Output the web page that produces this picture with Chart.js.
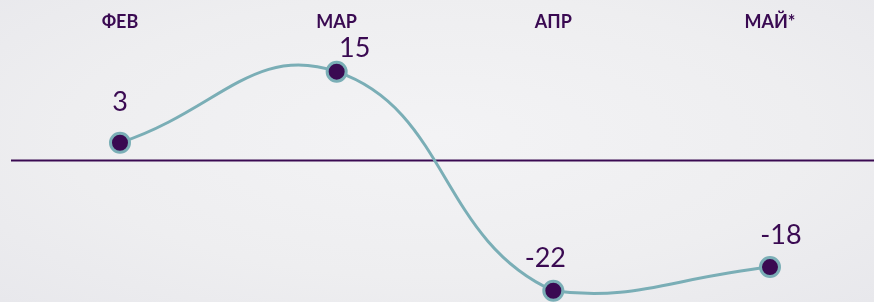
<!DOCTYPE html>
<html>
<head>
<meta charset="utf-8">
<script src="https://cdn.jsdelivr.net/npm/chart.js@4"></script>
<style>
  html, body { margin: 0; padding: 0; overflow: hidden; }
  body {
    width: 874px; height: 302px;
    background: radial-gradient(ellipse at 50% 45%, #f3f3f5 0%, #eeeef0 60%, #e8e8ec 100%);
  }
  canvas { display: block; }
</style>
</head>
<body>
<canvas id="chart" width="874" height="302"></canvas>
<script>
// ===== Data =====
const months = ["ФЕВ", "МАР", "АПР", "МАЙ*"];
const values = [3, 15, -22, -18];
const valueLabels = ["3", "15", "-22", "-18"];

const purple = "#3a0a52";
const teal = "#7aaeb6";

// label offsets relative to each point [dx, dy]
const labelOffsets = [[0, -40], [18, -23], [-8, -32], [11, -32]];

// ===== Value labels + zero line =====
const valueLabelPlugin = {
  id: "valueLabels",
  beforeDatasetsDraw(chart) {
    const { ctx, chartArea, scales } = chart;
    const y0 = scales.y.getPixelForValue(0);
    ctx.save();
    ctx.strokeStyle = purple;
    ctx.lineWidth = 2;
    ctx.beginPath();
    ctx.moveTo(chartArea.left, y0);
    ctx.lineTo(chartArea.right, y0);
    ctx.stroke();
    ctx.restore();
  },
  afterDatasetsDraw(chart) {
    const { ctx } = chart;
    const meta = chart.getDatasetMeta(0);
    ctx.save();
    ctx.font = "27px Lato";
    ctx.fillStyle = purple;
    ctx.textAlign = "center";
    ctx.textBaseline = "middle";
    meta.data.forEach((pt, i) => {
      const [dx, dy] = labelOffsets[i];
      ctx.fillText(valueLabels[i], pt.x + dx, pt.y + dy);
    });
    ctx.restore();
  }
};

new Chart(document.getElementById("chart"), {
  type: "line",
  data: {
    datasets: [{
      data: values.map((v, i) => ({ x: i, y: v })),
      borderColor: teal,
      borderWidth: 3,
      tension: 0.45,
      pointRadius: 9.5,
      pointBorderWidth: 3,
      pointBackgroundColor: purple,
      pointBorderColor: teal,
      clip: false
    }]
  },
  options: {
    responsive: false,
    animation: false,
    layout: { autoPadding: false, padding: { left: 11, right: 0, top: 0, bottom: 0 } },
    plugins: { legend: { display: false }, tooltip: { enabled: false } },
    scales: {
      x: {
        type: "linear",
        position: "top",
        min: -0.503,
        max: 3.48,
        border: { display: false },
        grid: { display: false, drawTicks: false },
        afterBuildTicks: (axis) => { axis.ticks = months.map((m, i) => ({ value: i })); },
        afterFit: (axis) => { axis.height = 32; },
        ticks: {
          padding: -1,
          color: purple,
          font: { family: "Lato", size: 18, weight: "bold" },
          callback: (v) => months[v] ?? ""
        }
      },
      y: {
        display: false,
        min: -23.9,
        max: 21.7
      }
    }
  },
  plugins: [valueLabelPlugin]
});
</script>
</body>
</html>
